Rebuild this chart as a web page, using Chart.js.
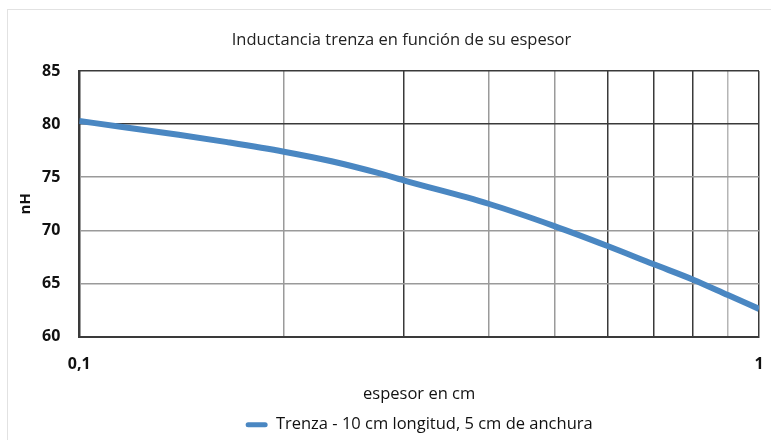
<!DOCTYPE html>
<html>
<head>
<meta charset="utf-8">
<script src="https://cdn.jsdelivr.net/npm/chart.js@4"></script>
<style>
    html, body { margin: 0; padding: 0; background: #ffffff; }
    #wrap { position: relative; width: 771px; height: 440px; }
    #frame {
        position: absolute; left: 7px; top: 9px; right: -2px; bottom: -2px;
        border-left: 1px solid #e2e2e2; border-top: 1px solid #e2e2e2;
        pointer-events: none;
    }
</style>
</head>
<body>
<div id="wrap">
    <canvas id="chart" width="771" height="440"></canvas>
    <div id="frame"></div>
</div>
<script>
// espesor (cm) and inductancia (nH)
const espesor = [0.1, 0.115, 0.14, 0.165, 0.2, 0.235, 0.275, 0.3, 0.4, 0.5, 0.6, 0.7, 0.8, 0.9, 1.0];
const inductancia = [80.3, 79.75, 79.0, 78.3, 77.4, 76.5, 75.4, 74.7, 72.5, 70.4, 68.5, 66.8, 65.35, 63.9, 62.6];
const xTicks = [0.1, 0.2, 0.3, 0.4, 0.5, 0.6, 0.7, 0.8, 0.9, 1];
const xLabels = { 0.1: '0,1', 1: '1' };
const yTicks = [60, 65, 70, 75, 80, 85];
const chartTitle = 'Inductancia trenza en función de su espesor';

// grid shade per tick
const darkX = [0.1, 0.3, 0.6, 0.7, 0.8, 1];
const lightX = [0.9];
const DARK = '#3a3a3a';
const GRAY = '#9a9a9a';

const FONT = "'Open Sans', 'Noto Sans', sans-serif";
const BLUE = '#4a87c2';

const roundTick = v => Math.round(v * 10) / 10;

// Title drawn by hand so it can sit a bit right of the canvas centre
const offsetTitle = {
    id: 'offsetTitle',
    afterDraw(chart) {
        const { ctx } = chart;
        ctx.save();
        ctx.fillStyle = '#222';
        ctx.font = `16.5px ${FONT}`;
        ctx.textAlign = 'center';
        ctx.textBaseline = 'middle';
        ctx.fillText(chartTitle, chart.width / 2 + 16, 40);
        ctx.restore();
    }
};

new Chart(document.getElementById('chart'), {
    type: 'line',
    data: {
        datasets: [{
            label: 'Trenza - 10 cm longitud, 5 cm de anchura',
            data: espesor.map((x, i) => ({ x, y: inductancia[i] })),
            borderColor: BLUE,
            backgroundColor: BLUE,
            borderWidth: 6,
            pointRadius: 0,
            cubicInterpolationMode: 'monotone',
            borderCapStyle: 'butt'
        }]
    },
    plugins: [offsetTitle],
    options: {
        responsive: false,
        animation: false,
        layout: { padding: { left: 17, right: 12, top: 71, bottom: -3 } },
        scales: {
            x: {
                type: 'logarithmic',
                min: 0.1,
                max: 1,
                afterBuildTicks(scale) {
                    scale.ticks = xTicks.map(v => ({ value: v }));
                },
                // let the "1" label hang into the layout padding
                afterFit(scale) {
                    scale.paddingRight = 0;
                },
                border: { color: DARK, width: 2 },
                grid: {
                    drawTicks: false,
                    lineWidth: 1.5,
                    color(ctx) {
                        const v = roundTick(ctx.tick ? ctx.tick.value : 0);
                        if (darkX.includes(v)) return DARK;
                        if (lightX.includes(v)) return '#b5b5b5';
                        return GRAY;
                    }
                },
                ticks: {
                    autoSkip: false,
                    maxRotation: 0,
                    padding: 18,
                    color: '#111',
                    font: { family: FONT, size: 16, weight: 'bold' },
                    callback(value) {
                        return xLabels[roundTick(value)] || '';
                    }
                },
                title: {
                    display: true,
                    text: 'espesor en cm',
                    color: '#111',
                    font: { family: FONT, size: 16.5 },
                    padding: { top: -7, bottom: 12 }
                }
            },
            y: {
                min: 60,
                max: 85,
                afterBuildTicks(scale) {
                    scale.ticks = yTicks.map(v => ({ value: v }));
                },
                border: { color: DARK, width: 2 },
                grid: {
                    drawTicks: false,
                    lineWidth: 1.5,
                    color(ctx) {
                        const v = ctx.tick ? ctx.tick.value : 0;
                        return (v === 80 || v === 85) ? DARK : GRAY;
                    }
                },
                ticks: {
                    padding: 19,
                    color: '#111',
                    font: { family: FONT, size: 16, weight: 'bold' }
                },
                title: {
                    display: true,
                    text: 'nH',
                    color: '#111',
                    font: { family: FONT, size: 15, weight: 'bold' },
                    padding: { top: 0, bottom: -12 }
                }
            }
        },
        plugins: {
            title: { display: false },
            legend: {
                position: 'bottom',
                fullSize: false,
                labels: {
                    color: '#111',
                    font: { family: FONT, size: 16.5 },
                    boxWidth: 22,
                    boxHeight: 5,
                    useBorderRadius: true,
                    borderRadius: 2.5,
                    padding: 0,
                    generateLabels(chart) {
                        return Chart.defaults.plugins.legend.labels.generateLabels(chart)
                            .map(l => ({ ...l, lineWidth: 0 }));
                    }
                }
            },
            tooltip: { enabled: false }
        }
    }
});
</script>
</body>
</html>
